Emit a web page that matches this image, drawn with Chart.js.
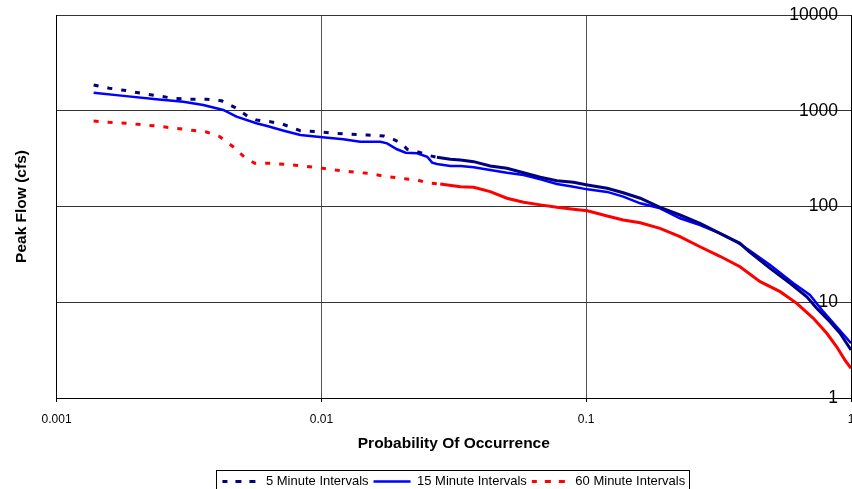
<!DOCTYPE html>
<html><head><meta charset="utf-8">
<script src="https://cdn.jsdelivr.net/npm/chart.js@4/dist/chart.umd.min.js"></script>
<style>html,body{margin:0;padding:0;background:#fff;}canvas{display:block}</style>
</head><body>
<canvas id="c" width="852" height="489"></canvas>
<script>
const seriesNames = ['5 Minute Intervals', '15 Minute Intervals', '60 Minute Intervals'];

const prob5 = [0.00138,0.00158,0.00184,0.00209,0.00238,0.00276,0.00318,0.00368,0.0042,0.00478,0.00529,0.00568,0.00642,0.00711,0.00833,0.00977,0.0113,0.0129,0.0149,0.0172,0.0187,0.0199,0.0211,0.023,0.0251,0.0273,0.0307,0.0335,0.0376,0.0434,0.0502,0.058,0.0671,0.0775,0.0895,0.101,0.12,0.138,0.16,0.19,0.226,0.269,0.32,0.381,0.409,0.495,0.589,0.681,0.742,0.833,0.909,1.0];
const flow5 = [1860,1720,1620,1520,1440,1350,1320,1320,1270,1060,867,801,769,727,619,604,581,568,558,545,503,464,396,374,345,326,311,306,294,265,251,225,202,186,179,168,155,139,122,98.1,81.5,66.8,52.5,41.3,34.5,22.6,15.8,11.4,8.65,6.26,4.74,3.17];

const prob15 = [0.00138,0.00179,0.00238,0.00301,0.00358,0.00426,0.00478,0.00568,0.00624,0.00721,0.00833,0.0101,0.0121,0.014,0.0167,0.0177,0.0193,0.0208,0.023,0.0251,0.0262,0.0273,0.0307,0.0335,0.0376,0.0434,0.0502,0.058,0.0671,0.0775,0.0895,0.101,0.12,0.138,0.16,0.19,0.226,0.269,0.32,0.376,0.409,0.495,0.606,0.7,0.786,0.883,1.0];
const flow15 = [1540,1430,1320,1240,1150,1020,867,740,693,619,558,528,503,475,475,457,396,365,359,331,287,278,265,265,257,240,225,213,192,172,161,151,142,127,108,95.8,75.3,64.1,52.5,41.3,35.5,24.5,15.8,11.9,7.97,5.55,3.73];

const prob60 = [0.00138,0.00158,0.00184,0.00209,0.00238,0.00276,0.00318,0.00368,0.00413,0.00464,0.00513,0.0056,0.00642,0.00721,0.00833,0.00977,0.0113,0.0129,0.0149,0.0172,0.0199,0.023,0.0251,0.0281,0.0335,0.0376,0.0434,0.0502,0.058,0.0671,0.0775,0.0895,0.101,0.12,0.138,0.16,0.19,0.226,0.269,0.32,0.381,0.454,0.54,0.624,0.721,0.81,0.883,0.949,1.0];
const flow60 = [782,758,740,715,693,660,630,600,536,421,326,283,283,276,267,254,240,231,222,208,197,189,177,172,161,159,143,122,111,104,98.1,93.5,90.4,79.6,72.3,67.7,59.2,48.4,38.0,30.2,23.5,16.4,12.9,9.75,6.80,4.74,3.43,2.49,2.04];

const xTickValues = [0.001, 0.01, 0.1, 1];
const xTickLabels = ['0.001', '0.01', '0.1', '1'];
const yTickValues = [1, 10, 100, 1000, 10000];
const yTickLabels = ['1', '10', '100', '1000', '10000'];

const toPoints = (xs, ys) => xs.map((x, i) => ({x: x, y: ys[i]}));
const DASH = [5, 9];
const dashLimit = 0.027;
const segDash = ctx => (ctx.p0.parsed.x < dashLimit ? DASH : []);

Chart.defaults.font.family = "'Liberation Sans', Arial, sans-serif";
Chart.defaults.color = '#000';

const legendBorder = {
  id: 'legendBorder',
  afterDraw(chart) {
    const lg = chart.legend;
    if (!lg || !lg.legendHitBoxes || !lg.legendHitBoxes.length) return;
    const hb = lg.legendHitBoxes;
    const l = Math.min(...hb.map(h => h.left)) - 6;
    const r = Math.max(...hb.map(h => h.left + h.width)) + 4;
    const t = Math.min(...hb.map(h => h.top)) - 5;
    const c = chart.ctx;
    c.save();
    c.strokeStyle = '#000';
    c.lineWidth = 1;
    c.setLineDash([]);
    c.strokeRect(Math.round(l) + 0.5, Math.round(t) + 0.5, Math.round(r - l), 40);
    c.restore();
  }
};

new Chart(document.getElementById('c'), {
  type: 'line',
  data: {
    datasets: [
      {label: seriesNames[0], data: toPoints(prob5, flow5), borderColor: '#000080', backgroundColor: '#000080',
       borderWidth: 3, borderDash: DASH, segment: {borderDash: segDash}},
      {label: seriesNames[1], data: toPoints(prob15, flow15), borderColor: '#0000FF', backgroundColor: '#0000FF',
       borderWidth: 2.5},
      {label: seriesNames[2], data: toPoints(prob60, flow60), borderColor: '#FF0000', backgroundColor: '#FF0000',
       borderWidth: 3, borderDash: DASH, segment: {borderDash: segDash}}
    ]
  },
  options: {
    responsive: false,
    animation: false,
    devicePixelRatio: 1,
    elements: {point: {radius: 0}, line: {tension: 0, fill: false, borderCapStyle: 'butt'}},
    layout: {autoPadding: false, padding: {left: 0, right: 1, top: 15, bottom: -9}},
    scales: {
      x: {
        type: 'logarithmic', position: 'bottom', min: 0.001, max: 1,
        afterBuildTicks: axis => { axis.ticks = xTickValues.map(v => ({value: v})); },
        afterFit: axis => { axis.paddingRight = 0; axis.paddingLeft = 0; },
        ticks: {font: {size: 12}, padding: 10, maxRotation: 0, autoSkip: false,
                callback: (v, i) => xTickLabels[i]},
        grid: {color: '#555', lineWidth: 1, tickLength: 4, tickColor: '#000'},
        border: {display: true, color: '#000', width: 1},
        title: {display: true, text: 'Probability Of Occurrence', font: {size: 15.5, weight: 'bold'},
                padding: {top: -2, bottom: 17}}
      },
      y: {
        type: 'logarithmic', position: 'left', min: 1, max: 10000,
        afterBuildTicks: axis => { axis.ticks = yTickValues.map(v => ({value: v})); },
        ticks: {display: false},
        grid: {color: '#333', lineWidth: 1, drawTicks: false},
        border: {display: true, color: '#000', width: 1},
        title: {display: true, text: 'Peak Flow (cfs)', font: {size: 15.5, weight: 'bold'},
                padding: {top: 12, bottom: 26}}
      },
      y2: {
        type: 'logarithmic', position: 'right', min: 1, max: 10000,
        afterBuildTicks: axis => { axis.ticks = yTickValues.map(v => ({value: v})); },
        ticks: {mirror: true, padding: -13, font: {size: 17.5}, callback: (v, i) => yTickLabels[i]},
        grid: {display: false, drawTicks: false},
        border: {display: true, color: '#000', width: 1}
      }
    },
    plugins: {
      legend: {
        position: 'bottom',
        fullSize: false,
        labels: {usePointStyle: false, boxWidth: 37, boxHeight: 0, padding: 5,
                 font: {size: 13}, color: '#000'}
      },
      tooltip: {enabled: false}
    }
  },
  plugins: [legendBorder]
});
</script>
</body></html>
